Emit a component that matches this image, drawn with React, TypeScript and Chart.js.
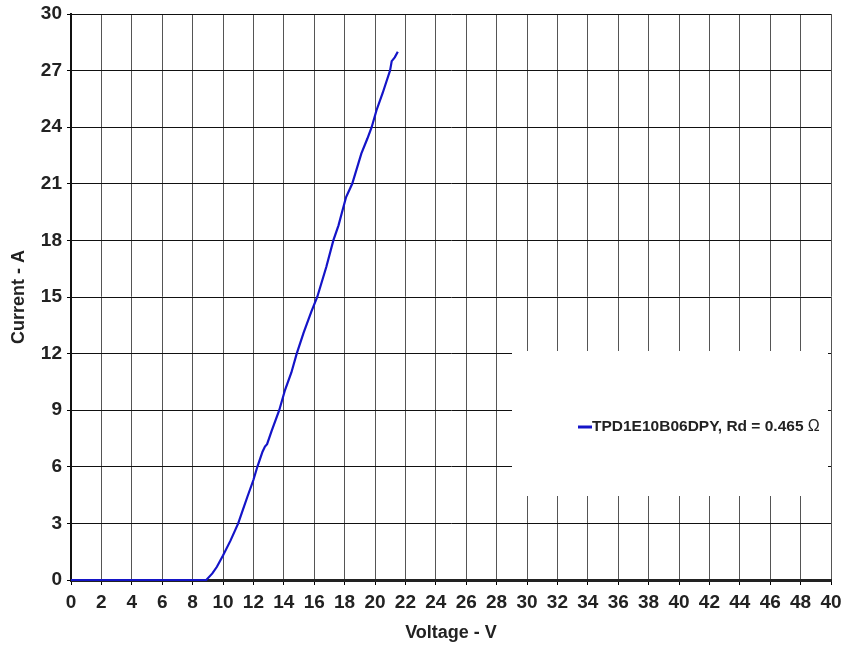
import React, { useEffect, useRef } from "react";
import { Chart, registerables } from "chart.js";

Chart.register(...registerables);

const voltage = [0, 8.9, 9.3, 9.6, 10.0, 10.5, 11.0, 11.3, 11.6, 12.0, 12.26, 12.6, 12.76, 12.9, 13.2, 13.7, 14.08, 14.5, 14.85, 15.3, 15.8, 16.2, 16.8, 17.26, 17.6, 17.9, 18.1, 18.5, 19.1, 19.5, 19.78, 20.1, 20.5, 20.99, 21.1, 21.3, 21.5];
const current = [0, 0, 0.35, 0.7, 1.3, 2.1, 3.0, 3.7, 4.4, 5.3, 6.0, 6.8, 7.07, 7.2, 7.9, 9.0, 10.07, 11.0, 12.0, 13.1, 14.2, 15.0, 16.6, 18.0, 18.8, 19.7, 20.3, 21.0, 22.6, 23.4, 24.0, 24.9, 25.8, 27.0, 27.5, 27.7, 28.0];

const xTickLabels = ["0", "2", "4", "6", "8", "10", "12", "14", "16", "18", "20", "22", "24", "26", "28", "30", "32", "34", "36", "38", "40", "42", "44", "46", "48", "40"];
const yTickLabels = ["0", "3", "6", "9", "12", "15", "18", "21", "24", "27", "30"];

const seriesName = "TPD1E10B06DPY, Rd = 0.465 ";
const seriesUnit = "\u03A9";
const xTitle = "Voltage - V";
const yTitle = "Current - A";

const lineColor = "#1414c8";
const fontFamily = "'Liberation Sans', Arial, Helvetica, sans-serif";

const legendBoxPlugin = {
  id: "legendBox",
  beforeDatasetsDraw(chart: any) {
    const { ctx, chartArea } = chart;
    const left = chartArea.left + 441;
    const top = chartArea.top + 337;
    const w = chartArea.right - 3 - left;
    const h = 145;
    ctx.save();
    ctx.fillStyle = "#ffffff";
    ctx.fillRect(left, top, w, h);
    const cy = top + 76;
    const sx = left + 66;
    ctx.strokeStyle = lineColor;
    ctx.lineWidth = 3;
    ctx.beginPath();
    ctx.moveTo(sx, cy);
    ctx.lineTo(sx + 14, cy);
    ctx.stroke();
    ctx.fillStyle = "#222222";
    ctx.textBaseline = "middle";
    ctx.textAlign = "left";
    ctx.font = `bold 15.5px ${fontFamily}`;
    ctx.fillText(seriesName, sx + 14, cy);
    const tw = ctx.measureText(seriesName).width;
    ctx.font = `16px ${fontFamily}`;
    ctx.fillText(seriesUnit, sx + 14 + tw, cy);
    ctx.restore();
  },
};

export default function App() {
  const ref = useRef<HTMLCanvasElement>(null);
  useEffect(() => {
    const canvas = ref.current;
    if (!canvas) return;
    const chart = new Chart(canvas, {
      type: "line",
      data: {
        datasets: [
          {
            label: seriesName + seriesUnit,
            data: voltage.map((v, i) => ({ x: v, y: current[i] })),
            borderColor: lineColor,
            backgroundColor: lineColor,
            borderWidth: 2.2,
            pointRadius: 0,
            tension: 0,
            fill: false,
            clip: false,
          },
        ],
      },
      options: {
        responsive: false,
        animation: false,
        layout: { padding: { left: 0, top: 14, right: 13, bottom: 0 } },
        plugins: { legend: { display: false }, tooltip: { enabled: false } },
        scales: {
          x: {
            type: "linear",
            min: 0,
            max: 50,
            afterFit: (s: any) => {
              s.height = 66;
              s.paddingLeft = 0;
              s.paddingRight = 0;
            },
            ticks: {
              stepSize: 2,
              autoSkip: false,
              maxRotation: 0,
              minRotation: 0,
              padding: 6,
              color: "#222222",
              font: { family: fontFamily, size: 19, weight: "bold" },
              callback: (_v: any, i: number) => xTickLabels[i],
            },
            grid: {
              color: "#555555",
              lineWidth: 1,
              tickLength: 5,
              tickColor: "#000000",
            },
            border: { color: "#222222", width: 3 },
            title: {
              display: true,
              text: xTitle,
              color: "#222222",
              font: { family: fontFamily, size: 18, weight: "bold" },
              padding: { top: 0, bottom: 2 },
            },
          },
          y: {
            type: "linear",
            min: 0,
            max: 30,
            afterFit: (s: any) => {
              s.width = 71;
              s.paddingTop = 0;
              s.paddingBottom = 0;
            },
            ticks: {
              stepSize: 3,
              padding: 5,
              color: "#222222",
              font: { family: fontFamily, size: 19, weight: "bold" },
              callback: (_v: any, i: number) => yTickLabels[i],
            },
            grid: {
              color: "#111111",
              lineWidth: 1,
              tickLength: 4,
              tickColor: "#000000",
            },
            border: { color: "#111111", width: 2 },
            title: {
              display: true,
              text: yTitle,
              color: "#222222",
              font: { family: fontFamily, size: 18, weight: "bold" },
              padding: { top: 8, bottom: 0 },
            },
          },
        },
      },
      plugins: [legendBoxPlugin],
    });
    return () => chart.destroy();
  }, []);
  return (
    <div style={{ position: "absolute", left: 0, top: 0, width: 844, height: 646, background: "#ffffff" }}>
      <canvas ref={ref} width={844} height={646} style={{ display: "block" }} />
    </div>
  );
}
